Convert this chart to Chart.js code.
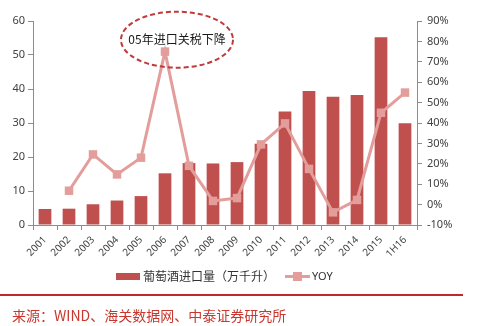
<!DOCTYPE html>
<html>
<head>
<meta charset="utf-8">
<script src="https://cdn.jsdelivr.net/npm/chart.js@4.4.1/dist/chart.umd.min.js"></script>
<style>
  html,body{margin:0;padding:0;background:#fff;}
  #wrap{position:relative;width:494px;height:326px;overflow:hidden;font-family:"Noto Sans","Noto Sans CJK SC",sans-serif;}
  #cv{position:absolute;left:0;top:0;}
  .lg{position:absolute;top:268px;left:0;height:16px;font-size:12px;color:#333;font-family:"Noto Sans CJK SC",sans-serif;}
  .lg .bar{position:absolute;left:116px;top:5px;width:24px;height:7px;background:#c0504d;}
  .lg .t1{position:absolute;left:143px;top:0;white-space:nowrap;line-height:16px;}
  .lg .ln{position:absolute;left:285px;top:7px;width:25px;height:3px;background:#e39d9b;}
  .lg .mk{position:absolute;left:293px;top:4px;width:9px;height:9px;background:#e39d9b;}
  .lg .t2{position:absolute;left:312px;top:0;line-height:16px;font-size:11px;font-family:"Noto Sans",sans-serif;}
  #rule{position:absolute;left:0;top:294px;width:463px;height:2px;background:#c0282d;}
  #src{position:absolute;left:12px;top:306px;font-size:14px;line-height:18px;color:#c8372d;white-space:nowrap;font-family:"Noto Sans CJK SC",sans-serif;}
</style>
</head>
<body>
<div id="wrap">
  <canvas id="cv" width="494" height="270"></canvas>
  <div class="lg"><div class="bar"></div><div class="t1">葡萄酒进口量（万千升）</div><div class="ln"></div><div class="mk"></div><div class="t2">YOY</div></div>
  <div id="rule"></div>
  <div id="src">来源：WIND、海关数据网、中泰证券研究所</div>
</div>
<script>
const years = ["2001","2002","2003","2004","2005","2006","2007","2008","2009","2010","2011","2012","2013","2014","2015","1H16"];
// import volume, 10k kilolitres
const volume = [4.7,4.8,6.1,7.2,8.5,15.2,18.2,18.1,18.5,23.9,33.4,39.4,37.7,38.2,55.2,29.9];
// year-on-year growth, %
const yoy = [null,6.8,24.6,14.8,23,75,19,1.8,3.2,29.5,39.8,17.5,-3.8,2.3,45,54.9];
const noteText = "05年进口关税下降";

const BAR = "#c0504d", LINE = "#e39d9b", AXIS = "#8c8c8c", TXT = "#404040";

// dashed ellipse callout around the 2006 spike
const callout = {
  id: "callout",
  afterDatasetsDraw(chart) {
    const {ctx, scales} = chart;
    const cx = (scales.x.getPixelForValue(5) + scales.x.getPixelForValue(6)) / 2;
    const cy = scales.y.getPixelForValue(54.5);
    ctx.save();
    ctx.beginPath();
    ctx.ellipse(cx, cy, 56, 28, 0, 0, Math.PI * 2);
    ctx.setLineDash([5, 3]);
    ctx.lineWidth = 2;
    ctx.strokeStyle = "#c0393b";
    ctx.stroke();
    ctx.setLineDash([]);
    ctx.fillStyle = "#1a1a1a";
    ctx.font = '12px "Noto Sans CJK SC", sans-serif';
    ctx.textAlign = "center";
    ctx.textBaseline = "middle";
    ctx.fillText(noteText, cx, cy);
    ctx.restore();
  }
};

new Chart(document.getElementById("cv"), {
  data: {
    labels: years,
    datasets: [
      {type:"line", label:"YOY", data:yoy, yAxisID:"y1", borderColor:LINE, backgroundColor:LINE,
        borderWidth:3, pointStyle:"rect", pointRadius:6, pointBorderWidth:0, tension:0, order:0},
      {type:"bar", label:"葡萄酒进口量（万千升）", data:volume, yAxisID:"y", backgroundColor:BAR,
        barPercentage:0.53, categoryPercentage:1, order:1}
    ]
  },
  options: {
    responsive:false, animation:false,
    layout:{padding:{top:21, left:0, right:0, bottom:0}},
    plugins:{legend:{display:false}, tooltip:{enabled:false}},
    scales:{
      x:{
        grid:{display:true, drawOnChartArea:false, tickLength:5, color:AXIS, offset:true},
        border:{color:AXIS},
        ticks:{maxRotation:45, minRotation:45, padding:4, color:TXT, font:{size:10, family:"Noto Sans"}},
        afterFit(s){ s.height = 45; }
      },
      y:{
        position:"left", min:0, max:60,
        grid:{drawOnChartArea:false, tickLength:5, color:AXIS},
        border:{color:AXIS},
        ticks:{stepSize:10, padding:3, color:TXT, font:{size:11, family:"Noto Sans"}},
        afterFit(s){ s.width = 33; }
      },
      y1:{
        position:"right", min:-10, max:90,
        grid:{drawOnChartArea:false, tickLength:5, color:AXIS},
        border:{color:AXIS},
        ticks:{stepSize:10, padding:5, color:TXT, font:{size:11, family:"Noto Sans"}, callback:v=>v+"%"},
        afterFit(s){ s.width = 77; }
      }
    }
  },
  plugins:[callout]
});
</script>
</body>
</html>
